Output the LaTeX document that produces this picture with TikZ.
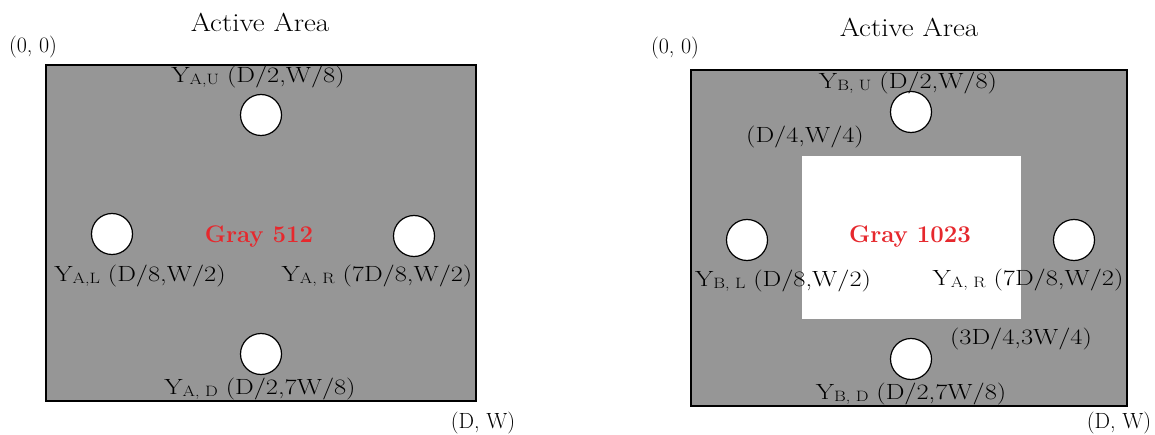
\documentclass[tikz,border=0pt]{standalone}
\usepackage{graphicx}
\definecolor{panelgray}{RGB}{150,150,150}
\definecolor{grayred}{RGB}{230,40,45}
\newcommand\sbs[1]{\raisebox{-0.25ex}{\fontsize{15}{16}\selectfont #1}}
\newcommand\wide[1]{\scalebox{1.2}[1]{#1}}
\newcommand\widet[1]{\scalebox{1.12}[1]{#1}}
\tikzset{
  panel/.style={draw=black, line width=1.5pt, fill=panelgray},
  hole/.style={circle, draw=black, line width=1.2pt, fill=white, minimum size=41pt, inner sep=0pt},
  lab/.style={inner sep=0pt, font=\fontsize{22}{26}\selectfont},
  title/.style={inner sep=0pt, font=\fontsize{26}{30}\selectfont},
  graylab/.style={inner sep=0pt, text=grayred, font=\fontsize{24}{28}\selectfont\bfseries}
}
\begin{document}
\begin{tikzpicture}[x=1pt,y=-1pt]
\useasboundingbox (0,0) rectangle (1155,435);
% ---------- left panel ----------
\node[title] (tA) at (260,22) {\widet{Active Area}};
\node[lab] (oA) at (33,47) {(0, 0)};
\draw[panel] (46,65) rectangle (476,401);
\node[hole] (cAU) at (261,115) {};
\node[hole] (cAL) at (112,234) {};
\node[hole] (cAR) at (414,236) {};
\node[hole] (cAD) at (261,354) {};
\node[lab] (lAU) at (258,77) {\wide{Y\sbs{A,U} (D/2,W/8)}};
\node[lab] (lAL) at (140,276) {\wide{Y\sbs{A,L} (D/8,W/2)}};
\node[lab] (lAR) at (377,276) {\wide{Y\sbs{A, R} (7D/8,W/2)}};
\node[lab] (lAD) at (260,389) {\wide{Y\sbs{A, D} (D/2,7W/8)}};
\node[graylab] (gA) at (259,237) {Gray 512};
\node[lab] (eA) at (483,423) {(D, W)};
% ---------- right panel ----------
\node[title] (tB) at (909,27) {\widet{Active Area}};
\node[lab] (oB) at (675,48) {(0, 0)};
\draw[panel] (691,70) rectangle (1127,406);
\fill[white] (802,156) rectangle (1021,319);
\node[hole] (cBU) at (911,112) {};
\node[hole] (cBL) at (747,240) {};
\node[hole] (cBR) at (1074,240) {};
\node[hole] (cBD) at (911,359) {};
\node[lab] (lBU) at (908,83) {\wide{Y\sbs{B, U} (D/2,W/8)}};
\node[lab] (q1) at (805,137) {\wide{(D/4,W/4)}};
\node[lab] (lBL) at (783,281) {\wide{Y\sbs{B, L} (D/8,W/2)}};
\node[lab] (lBR) at (1028,280) {\wide{Y\sbs{A, R} (7D/8,W/2)}};
\node[lab] (q3) at (1021,339) {\wide{(3D/4,3W/4)}};
\node[lab] (lBD) at (911,394) {\wide{Y\sbs{B, D} (D/2,7W/8)}};
\node[graylab] (gB) at (910,237) {Gray 1023};
\node[lab] (eB) at (1119,423) {(D, W)};
\end{tikzpicture}
\end{document}
